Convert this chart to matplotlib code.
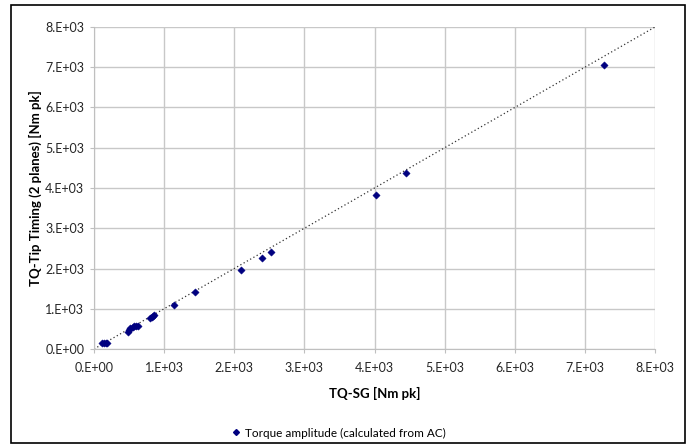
import matplotlib
matplotlib.use('Agg')
import matplotlib.pyplot as plt
from matplotlib.patches import Rectangle
from matplotlib.lines import Line2D

# Torque amplitude, strain gauge vs tip timing [Nm pk]
tq_sg = [110, 140, 170, 190, 480, 500, 520, 550, 570, 600, 630,
         800, 820, 840, 860, 1140, 1440, 2100, 2400, 2530, 4020, 4450, 7270]
tq_tt = [150, 160, 160, 150, 430, 470, 510, 550, 570, 570, 580,
         760, 800, 830, 850, 1100, 1420, 1970, 2270, 2400, 3820, 4380, 7050]

ticks = [0, 1000, 2000, 3000, 4000, 5000, 6000, 7000, 8000]
tick_labels = ['0.E+00', '1.E+03', '2.E+03', '3.E+03', '4.E+03',
               '5.E+03', '6.E+03', '7.E+03', '8.E+03']

plt.rcParams['font.family'] = ['Lato', 'DejaVu Sans']

fig = plt.figure(figsize=(6.89, 4.44), dpi=100)
ax = fig.add_axes([94 / 689, 95 / 444, 561 / 689, 322 / 444])

# 1:1 reference line
ax.plot([0, 8000], [0, 8000], color='#333333', linestyle=(0, (1, 2)), linewidth=0.9, zorder=2)
ax.scatter(tq_sg, tq_tt, marker='D', s=14, color='#000080', edgecolors='#000080',
           linewidths=0.3, zorder=3)

ax.set_xlim(0, 8000)
ax.set_ylim(0, 8000)
ax.set_xticks(ticks)
ax.set_yticks(ticks)
ax.set_xticklabels(tick_labels)
ax.set_yticklabels(tick_labels)
ax.tick_params(labelsize=9, length=3, color='#bfbfbf', colors='#262626')
ax.tick_params(axis='x', pad=6)
ax.tick_params(axis='y', pad=4)
ax.grid(True, color='#c8c8c8', linewidth=1.0)
ax.set_axisbelow(True)
for side in ['top', 'right']:
    ax.spines[side].set_visible(False)
for side in ['left', 'bottom']:
    ax.spines[side].set_color('#bfbfbf')

ax.set_xlabel('TQ-SG [Nm pk]', fontsize=9.5, fontweight='bold', labelpad=10)
ax.set_ylabel('TQ-Tip Timing (2 planes) [Nm pk]', fontsize=9.5, fontweight='bold', labelpad=2)

handle = Line2D([], [], marker='D', linestyle='none', color='#000080', markersize=3)
fig.legend([handle], ['Torque amplitude (calculated from AC)'], loc='center',
           bbox_to_anchor=(338 / 689, 1 - 433 / 444), frameon=False, fontsize=8.5,
           handletextpad=0.2, handlelength=1.0)

# chart border
fig.add_artist(Rectangle((11 / 689, 1 / 444), 674 / 689, 438 / 444, transform=fig.transFigure,
                         fill=False, edgecolor='black', linewidth=1.2))

fig.savefig('out.png', dpi=100)
